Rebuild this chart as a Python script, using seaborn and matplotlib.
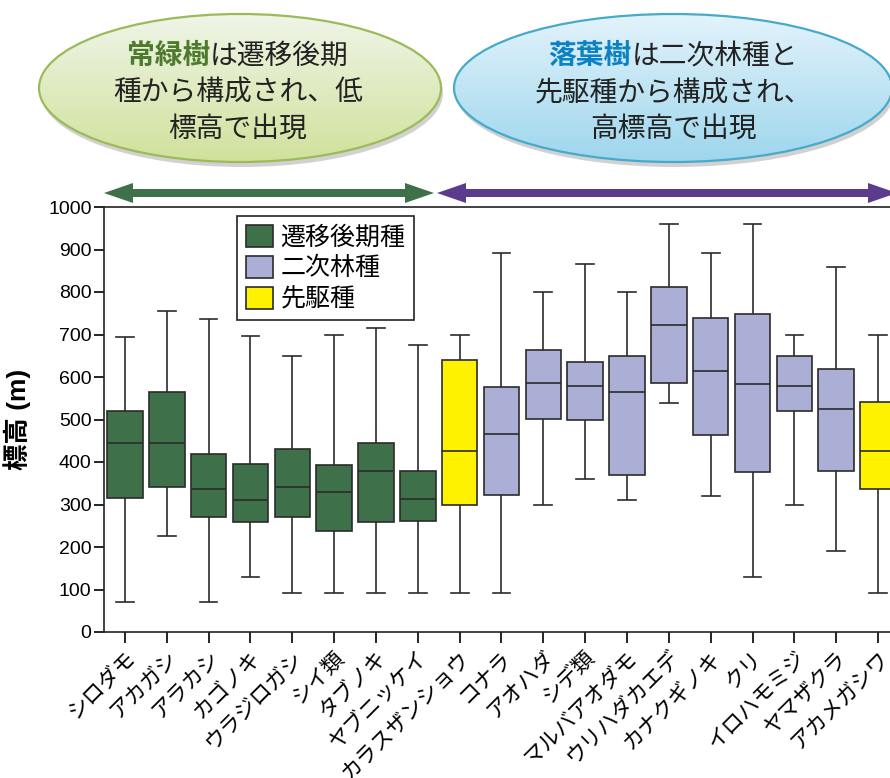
import numpy as np
import pandas as pd
import matplotlib
matplotlib.use("Agg")
import matplotlib.pyplot as plt
from matplotlib.patches import Ellipse, Polygon, Patch
from matplotlib.colors import LinearSegmentedColormap
import seaborn as sns

plt.rcParams["font.family"] = ["Liberation Sans", "Noto Sans CJK JP", "DejaVu Sans"]

# === Data: five-number summary per species ===
species = ["シロダモ", "アカガシ", "アラカシ", "カゴノキ", "ウラジロガシ", "シイ類",
           "タブノキ", "ヤブニッケイ", "カラスザンショウ", "コナラ", "アオハダ", "シデ類",
           "マルバアオダモ", "ウリハダカエデ", "カナクギノキ", "クリ", "イロハモミジ",
           "ヤマザクラ", "アカメガシワ"]
group = ["遷移後期種"] * 8 + ["先駆種"] + ["二次林種"] * 9 + ["先駆種"]
w_low = [70, 226, 70, 130, 91, 91, 91, 91, 91, 91, 300, 361, 310, 540, 321, 130, 300, 191, 91]
q1 = [315, 342, 271, 258, 271, 238, 260, 262, 300, 323, 502, 500, 370, 586, 463, 376, 521, 379, 336]
median = [445, 445, 336, 311, 341, 330, 380, 313, 425, 465, 586, 580, 565, 722, 613, 584, 580, 525, 425]
q3 = [520, 565, 420, 395, 431, 394, 445, 380, 639, 576, 664, 635, 650, 812, 739, 749, 650, 618, 541]
w_high = [695, 755, 736, 696, 650, 700, 715, 675, 700, 891, 801, 865, 801, 960, 891, 960, 700, 860, 700]

groups = ["遷移後期種", "二次林種", "先駆種"]
palette = {"遷移後期種": "#3e7049", "二次林種": "#abaed5", "先駆種": "#fff200"}

rows = []
for sp, g, a, b, c, d, e in zip(species, group, w_low, q1, median, q3, w_high):
    for v in (a, b, c, d, e):
        rows.append({"species": sp, "group": g, "elev": v})
df = pd.DataFrame(rows)

# === Figure ===
fig = plt.figure(figsize=(8.9, 7.78), dpi=100)
ax = fig.add_axes([104 / 890, 146 / 778, 795 / 890, 425 / 778])

sns.boxplot(data=df, x="species", y="elev", hue="group", order=species,
            hue_order=groups, palette=palette, saturation=1, dodge=False, width=0.85,
            whis=(0, 100), linecolor="#2b2b2b", linewidth=1.2, legend=False, ax=ax)

ax.set_xlim(-0.5, len(species) - 0.5)
ax.set_ylim(0, 1000)
ax.set_yticks(range(0, 1001, 100))
ax.set_xlabel("")
ax.set_ylabel("標高 (m)", fontsize=19, fontweight="bold", labelpad=12)
ax.tick_params(axis="y", labelsize=14, direction="out", length=7, width=1.2, pad=2)
ax.tick_params(axis="x", labelsize=15.5, direction="out", length=8, width=1.2, pad=3)
ax.set_xticks(range(len(species)))
ax.set_xticklabels(species, rotation=45, ha="right", rotation_mode="anchor")
for s in ax.spines.values():
    s.set_linewidth(1.2)
    s.set_color("#222222")

handles = [Patch(facecolor=palette[g], edgecolor="#2b2b2b", linewidth=1.2) for g in groups]
leg = ax.legend(handles, groups, loc="upper left", bbox_to_anchor=(0.167, 0.979),
                borderaxespad=0, fontsize=18, frameon=True, fancybox=False,
                framealpha=1, edgecolor="#222222", handlelength=1.1, handleheight=1.0,
                labelspacing=0.25, handletextpad=0.3, borderpad=0.35)
leg.get_frame().set_linewidth(1.2)

# === Top annotations (overlay in pixel coordinates) ===
ov = fig.add_axes([0, 0, 1, 1])
ov.patch.set_visible(False)
ov.axis("off")


def bubble(cx, cy, w, h, top_col, bot_col, edge):
    ov.add_patch(Ellipse((cx + 2, cy + 5), w, h, fc="#9a9a9a", ec="none", alpha=0.45))
    e = Ellipse((cx, cy), w, h, fc="none", ec=edge, lw=1.6, zorder=3)
    ov.add_patch(e)
    cmap = LinearSegmentedColormap.from_list("grad", [top_col, bot_col])
    grad = np.linspace(0, 1, 256)[:, None]
    im = ov.imshow(grad, cmap=cmap, extent=(cx - w / 2, cx + w / 2, cy + h / 2, cy - h / 2),
                   aspect="auto", origin="upper", zorder=2)
    im.set_clip_path(e)


def double_arrow(x0, x1, y, color, hl=29, hw=10, sw=4):
    pts = [(x0, y), (x0 + hl, y - hw), (x0 + hl, y - sw), (x1 - hl, y - sw), (x1 - hl, y - hw),
           (x1, y), (x1 - hl, y + hw), (x1 - hl, y + sw), (x0 + hl, y + sw), (x0 + hl, y + hw)]
    ov.add_patch(Polygon(pts, closed=True, fc=color, ec="none"))


bubble(240, 88, 402, 148, "#eff5e8", "#d0e19b", "#9bbb59")
bubble(673, 88, 438, 148, "#e3f3fb", "#9ed6ed", "#45aacb")

fs = 20
em = fs * 100 / 72


def split_line(cx, y, head, tail, head_color):
    n = len(head) + len(tail)
    split = cx - n * em / 2 + len(head) * em
    ov.text(split, y, head, color=head_color, fontsize=fs, fontweight="bold",
            ha="right", va="center", zorder=4)
    ov.text(split, y, tail, color="#222222", fontsize=fs, ha="left", va="center", zorder=4)


split_line(238, 57, "常緑樹", "は遷移後期", "#4d7a2c")
ov.text(238, 94, "種から構成され、低", fontsize=fs, color="#222222", ha="center", va="center", zorder=4)
ov.text(238, 130, "標高で出現", fontsize=fs, color="#222222", ha="center", va="center", zorder=4)

split_line(673, 57, "落葉樹", "は二次林種と", "#0b82c4")
ov.text(673, 94, "先駆種から構成され、", fontsize=fs, color="#222222", ha="center", va="center", zorder=4)
ov.text(674, 130, "高標高で出現", fontsize=fs, color="#222222", ha="center", va="center", zorder=4)

double_arrow(104, 434, 193, "#3e7049")
double_arrow(437, 897, 193, "#5c3a8c")

ov.set_xlim(0, 890)
ov.set_ylim(778, 0)

fig.savefig("out.png", dpi=100)
